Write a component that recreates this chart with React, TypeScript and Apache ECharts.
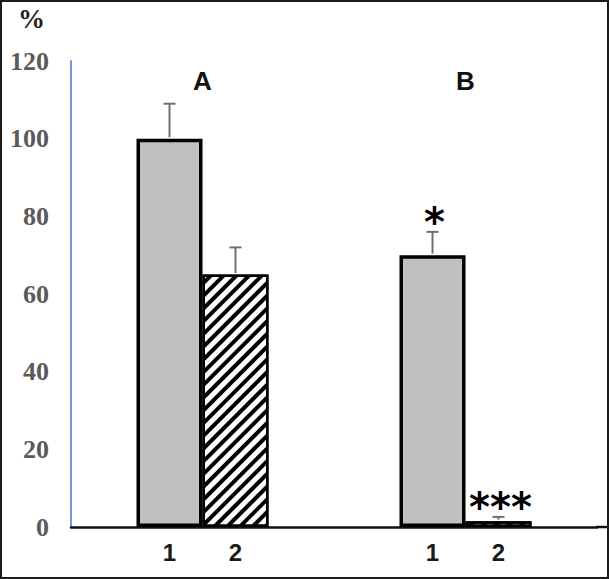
import React, { useEffect, useRef } from "react";
import * as echarts from "echarts";

const groups = ["A", "B"];
const seriesNames = ["1", "2"];
const values1 = [100, 70];
const values2 = [65, 1.5];
const errors1 = [9, 6];
const errors2 = [7, 1.1];
const marks1 = ["", "*"];
const marks2 = ["", "***"];
const yMin = 0;
const yMax = 120;
const yInterval = 20;

const BAR_W = 66;

export default function App() {
  const ref = useRef<HTMLDivElement>(null);
  useEffect(() => {
    if (!ref.current) return;
    const chart = echarts.init(ref.current, undefined, { renderer: "svg" });
    const errData: any[] = [];
    const marks: string[] = [];
    groups.forEach((_, i) => {
      errData.push([i, 0, values1[i], errors1[i]]);
      marks.push(marks1[i]);
      errData.push([i, 1, values2[i], errors2[i]]);
      marks.push(marks2[i]);
    });
    const barLabel = {
      show: true,
      position: "bottom",
      distance: 13,
      formatter: (p: any) => p.seriesName,
      fontFamily: "Liberation Sans",
      fontWeight: "bold",
      fontSize: 24,
      color: "#1a1a1a",
    };
    chart.setOption({
      animation: false,
      backgroundColor: "#fff",
      grid: { left: 71, right: 12, top: 61, bottom: 52 },
      xAxis: [
        {
          type: "category",
          data: groups,
          axisLine: { show: true, lineStyle: { color: "#111", width: 2.5 } },
          axisTick: { show: false },
          axisLabel: { show: false },
        },
        {
          type: "category",
          data: groups,
          position: "top",
          axisLine: { show: false },
          axisTick: { show: false },
          axisLabel: {
            inside: true,
            margin: 7,
            fontFamily: "Liberation Sans",
            fontWeight: "bold",
            fontSize: 26,
            color: "#111",
          },
        },
      ],
      yAxis: {
        type: "value",
        min: yMin,
        max: yMax,
        interval: yInterval,
        name: "%",
        nameLocation: "end",
        nameGap: 29,
        nameTextStyle: {
          align: "right",
          padding: [0, 26, 0, 0],
          fontFamily: "Liberation Serif",
          fontWeight: "bold",
          fontSize: 27,
          color: "#222",
        },
        splitLine: { show: false },
        axisTick: { show: false },
        axisLine: { show: true, lineStyle: { color: "#6f9ad8", width: 2 } },
        axisLabel: {
          margin: 22,
          fontFamily: "Liberation Serif",
          fontWeight: "bold",
          fontSize: 26,
          color: "#5a5a5a",
        },
      },
      graphic: [
        {
          type: "line",
          shape: { x1: 596, y1: 527, x2: 609, y2: 527 },
          style: { stroke: "#111", lineWidth: 2.5 },
        },
      ],
      series: [
        {
          name: seriesNames[0],
          type: "bar",
          data: values1,
          barWidth: BAR_W,
          barGap: "0%",
          itemStyle: { color: "#c0c0c0", borderColor: "#000", borderWidth: 3.5 },
          label: barLabel,
          z: 2,
        },
        {
          name: seriesNames[1],
          type: "bar",
          data: values2,
          barWidth: BAR_W,
          barGap: "0%",
          itemStyle: {
            color: "#fff",
            borderColor: "#000",
            borderWidth: 2.5,
            decal: {
              symbol: "rect",
              symbolSize: 1,
              dashArrayX: [10, 0],
              dashArrayY: [4, 5],
              rotation: -Math.PI / 4,
              color: "#000",
            },
          },
          label: barLabel,
          z: 2,
        },
        {
          type: "custom",
          data: errData,
          encode: { x: 0, y: 2 },
          z: 5,
          renderItem: (params: any, api: any) => {
            const cat = api.value(0);
            const s = api.value(1);
            const v = api.value(2);
            const e = api.value(3);
            const base = api.coord([cat, v]);
            const top = api.coord([cat, v + e]);
            const x = base[0] + (s - 0.5) * BAR_W;
            const mark = marks[params.dataIndex];
            const children: any[] = [
              {
                type: "line",
                shape: { x1: x, y1: base[1] - 1.5, x2: x, y2: top[1] },
                style: { stroke: "#707070", lineWidth: 2 },
              },
              {
                type: "line",
                shape: { x1: x - 6, y1: top[1], x2: x + 6, y2: top[1] },
                style: { stroke: "#707070", lineWidth: 2 },
              },
            ];
            if (mark) {
              children.push({
                type: "text",
                style: {
                  text: mark,
                  x: x + 2,
                  y: top[1] - 10,
                  align: "center",
                  verticalAlign: "middle",
                  fontFamily: "DejaVu Sans",
                  fontWeight: "bold",
                  fontSize: 40,
                  fill: "#000",
                },
              });
            }
            return { type: "group", children };
          },
        },
      ],
    });
    return () => chart.dispose();
  }, []);
  return (
    <div style={{ position: "fixed", left: 0, top: 0, width: 609, height: 579 }}>
      <div ref={ref} style={{ width: 609, height: 579 }} />
      <div
        style={{
          position: "absolute",
          left: 0,
          top: 0,
          width: 609,
          height: 579,
          boxSizing: "border-box",
          border: "2px solid #1c1c1c",
          pointerEvents: "none",
        }}
      />
    </div>
  );
}
